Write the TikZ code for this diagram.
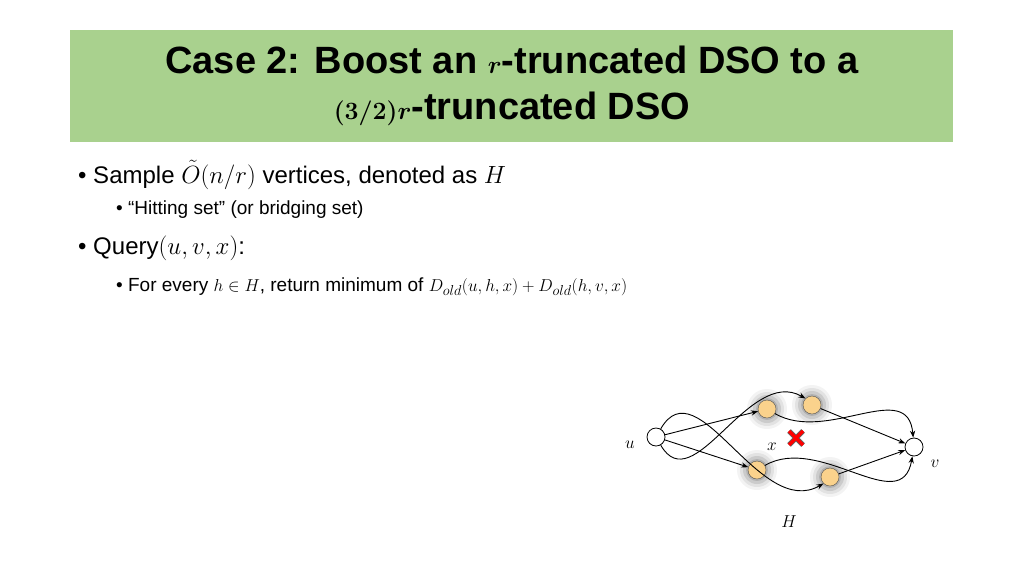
\documentclass[tikz,border=0pt]{standalone}
\usepackage{amsmath,bm}
\usepackage{fontspec}
\setmainfont{Liberation Sans}
\usetikzlibrary{arrows.meta}
\definecolor{titlegreen}{RGB}{169,209,142}
\definecolor{hitfill}{RGB}{250,210,140}
\tikzset{
  endpt/.style={circle, draw, thick, fill=white, minimum size=18pt, inner sep=0pt},
  hitpt/.style={circle, draw=black!70, fill=hitfill, minimum size=18pt, inner sep=0pt},
  edge/.style={-{Stealth[length=7pt]}, line width=0.9pt},
  lbl/.style={font=\fontsize{16}{16}\selectfont},
  txt/.style={anchor=west, inner sep=0pt}
}
\newcommand{\glow}[1]{%
  \foreach \r/\o in {20/0.08, 17/0.12, 14/0.18, 11/0.25}
    \fill[black!60, opacity=\o] (#1) circle (\r pt);}
\begin{document}
\begin{tikzpicture}[x=1pt, y=-1pt]
  \useasboundingbox (0,0) rectangle (1024,576);
  % title
  \fill[titlegreen] (70,30) rectangle (953,142);
  \node[font=\fontsize{38}{46}\selectfont\bfseries, align=center] (title) at (512,86)
    {Case 2: Boost an $\bm{r}$-truncated DSO to a\\$\bm{(3/2)r}$-truncated DSO};
  % bullets
  \node[txt, font=\fontsize{24}{24}\selectfont] (b1) at (78,175) {\textbullet\ Sample $\tilde{O}(n/r)$ vertices, denoted as $H$};
  \node[txt, font=\fontsize{19}{19}\selectfont] (b2) at (116,210) {\textbullet\ “Hitting set” (or bridging set)};
  \node[txt, font=\fontsize{24}{24}\selectfont] (b3) at (78,248) {\textbullet\ Query$(u,v,x)$:};
  \node[txt, font=\fontsize{19}{19}\selectfont] (b4) at (116,287) {\textbullet\ For every $h\in H$, return minimum of $D_{old}(u,h,x)+D_{old}(h,v,x)$};
  % graph
  \glow{767,409} \glow{812,405} \glow{757,470} \glow{830,477}
  \node[endpt] (u) at (656,437) {};
  \node[endpt] (v) at (914,447) {};
  \node[hitpt] (h1) at (767,409) {};
  \node[hitpt] (h2) at (812,405) {};
  \node[hitpt] (h3) at (757,470) {};
  \node[hitpt] (h4) at (830,477) {};
  \draw[edge] (u) -- (h1);
  \draw[edge] (u) -- (h3);
  \draw[edge] (h2) -- (v);
  \draw[edge] (h4) -- (v);
  \draw[edge] (u) to[out=-60, in=150, looseness=1.1] (h2.north west);
  \draw[edge] (h1) to[out=-30, in=95, looseness=1.1] (v);
  \draw[edge] (u) to[out=60, in=210, looseness=1.1] (h4.south west);
  \draw[edge] (h3) to[out=30, in=-100, looseness=1.1] (v);
  % failed vertex
  \draw[line width=5pt, black!60] (789,431) -- (803,445) (789,445) -- (803,431);
  \draw[line width=3.5pt, red] (789,431) -- (803,445) (789,445) -- (803,431);
  \node[lbl] (lu) at (630,445) {$u$};
  \node[lbl] (lx) at (772,447) {$x$};
  \node[lbl] (lv) at (935,464) {$v$};
  \node[lbl] (lH) at (789,522) {$H$};
\end{tikzpicture}
\end{document}
